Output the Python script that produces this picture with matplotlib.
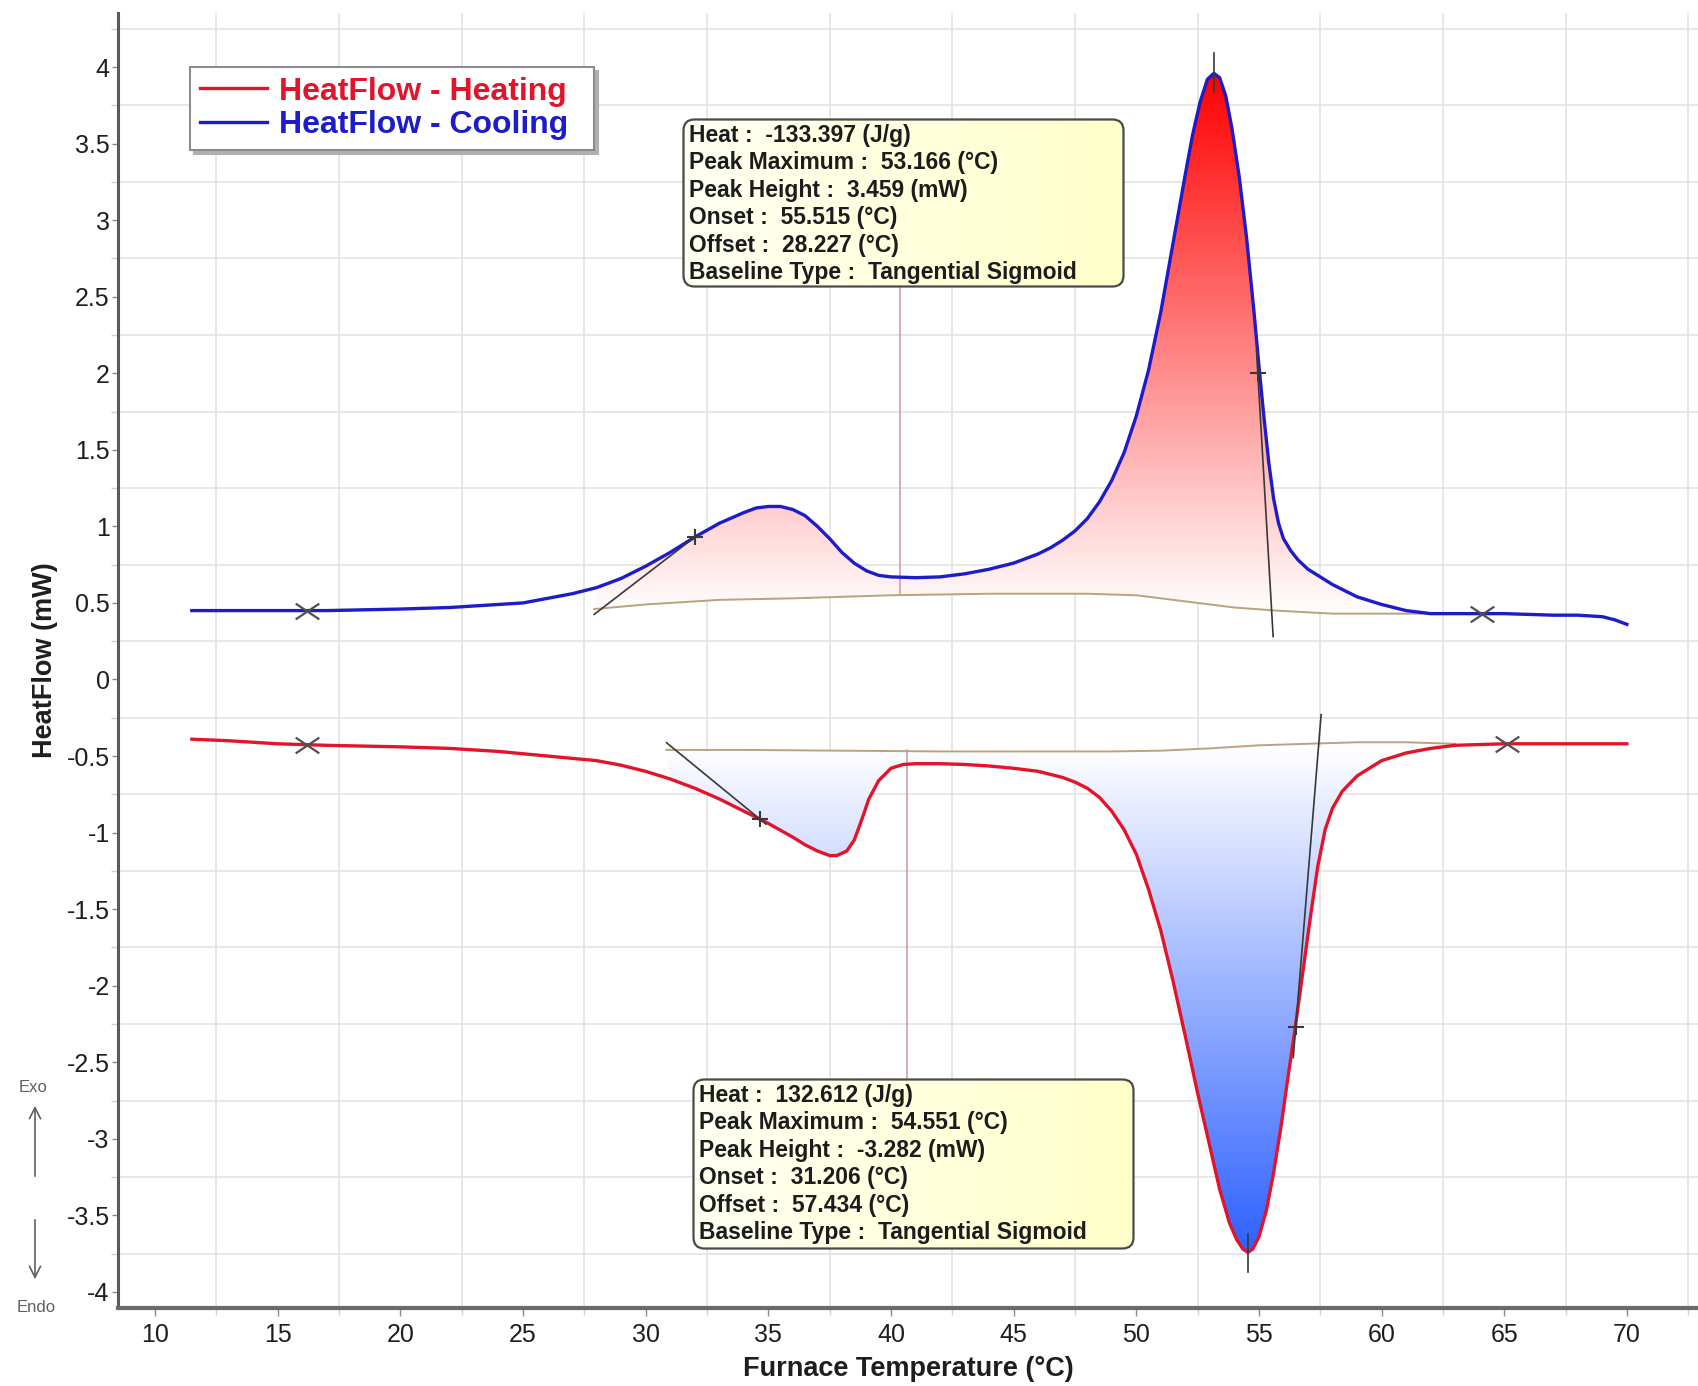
"""
DSC heat-flow curves (heating / cooling) with integrated peaks.
"""

import numpy as np
import matplotlib.pyplot as plt
from matplotlib.patches import FancyBboxPatch, Polygon
from matplotlib.path import Path

plt.rcParams["font.family"] = ["Liberation Sans", "DejaVu Sans"]
plt.rcParams["axes.unicode_minus"] = False

# ── DATA ──────────────────────────────────────────────────────────────────────
cool_t = [11.5, 14, 17, 20, 22, 24, 25, 26, 27, 28, 29, 30, 31, 32, 33, 34,
          34.5, 35, 35.5, 36, 36.5, 37, 37.5, 38, 38.5, 39, 39.5, 40, 41, 42,
          43, 44, 45, 46, 46.5, 47, 47.5, 48, 48.5, 49, 49.5, 50, 50.5, 51,
          51.5, 52, 52.3, 52.6, 52.9, 53.166, 53.4, 53.65, 53.9, 54.2, 54.5,
          54.8, 55.0, 55.2, 55.4, 55.6, 55.8, 56.0, 56.3, 56.6, 57, 57.5, 58,
          59, 60, 61, 62, 63, 65, 67, 68, 69, 69.5, 70]
cool_hf = [0.45, 0.45, 0.45, 0.46, 0.47, 0.49, 0.50, 0.53, 0.56, 0.60, 0.66,
           0.74, 0.83, 0.93, 1.02, 1.09, 1.12, 1.13, 1.13, 1.11, 1.07, 1.00,
           0.92, 0.83, 0.76, 0.71, 0.68, 0.67, 0.665, 0.67, 0.69, 0.72, 0.76,
           0.82, 0.86, 0.91, 0.97, 1.05, 1.16, 1.30, 1.48, 1.72, 2.02, 2.40,
           2.85, 3.30, 3.56, 3.77, 3.92, 3.959, 3.93, 3.81, 3.60, 3.28, 2.88,
           2.40, 2.05, 1.72, 1.42, 1.18, 1.02, 0.92, 0.84, 0.78, 0.72, 0.67,
           0.62, 0.54, 0.49, 0.45, 0.43, 0.43, 0.43, 0.42, 0.42, 0.41, 0.39,
           0.36]

heat_t = [11.5, 13, 15, 17, 20, 22, 24, 26, 28, 29, 30, 31, 32, 33, 34, 35,
          36, 36.5, 37, 37.5, 37.8, 38.2, 38.5, 38.8, 39.1, 39.5, 40, 40.5,
          41, 42, 43, 44, 45, 46, 47, 47.5, 48, 48.5, 49, 49.5, 50, 50.5, 51,
          51.5, 52, 52.5, 53, 53.4, 53.8, 54.1, 54.35, 54.551, 54.75, 55.0,
          55.3, 55.6, 55.9, 56.2, 56.5, 56.8, 57.1, 57.4, 57.7, 58.0, 58.4,
          59, 60, 61, 62, 63, 65, 68, 70]
heat_hf = [-0.39, -0.40, -0.42, -0.43, -0.44, -0.45, -0.47, -0.50, -0.53,
           -0.56, -0.60, -0.65, -0.71, -0.78, -0.86, -0.94, -1.03, -1.08,
           -1.12, -1.15, -1.15, -1.12, -1.05, -0.92, -0.78, -0.66, -0.58,
           -0.555, -0.55, -0.55, -0.555, -0.565, -0.58, -0.60, -0.64, -0.67,
           -0.71, -0.77, -0.86, -0.98, -1.14, -1.37, -1.64, -1.97, -2.33,
           -2.70, -3.05, -3.33, -3.55, -3.66, -3.72, -3.742, -3.72, -3.64,
           -3.47, -3.22, -2.92, -2.58, -2.25, -1.90, -1.55, -1.22, -0.98,
           -0.84, -0.73, -0.63, -0.53, -0.48, -0.45, -0.43, -0.42, -0.42,
           -0.42]

# tangential sigmoid baselines under each peak
cool_base_t = [27.9, 30, 33, 36, 40, 44, 48, 50, 52, 54, 55.7, 58, 60, 62]
cool_base_hf = [0.46, 0.49, 0.52, 0.53, 0.55, 0.56, 0.56, 0.55, 0.51, 0.47,
                0.45, 0.43, 0.43, 0.43]
heat_base_t = [30.85, 34, 38, 42, 46, 49, 51, 53, 55, 57, 59, 61, 63]
heat_base_hf = [-0.46, -0.46, -0.465, -0.47, -0.47, -0.47, -0.465, -0.45,
                -0.43, -0.42, -0.41, -0.41, -0.42]

# onset / offset tangents
cool_tangents = [([27.9, 32.0], [0.425, 0.93]), ([54.9, 55.58], [2.15, 0.28])]
heat_tangents = [([30.85, 34.9], [-0.413, -0.944]),
                 ([57.535, 56.4], [-0.23, -2.47])]

# inflection points and integration limits
cool_infl_t, cool_infl_hf = [32.0, 54.95], [0.93, 2.0]
heat_infl_t, heat_infl_hf = [34.65, 56.5], [-0.91, -2.27]
cool_lim_t, cool_lim_hf = [16.2, 64.1], [0.45, 0.43]
heat_lim_t, heat_lim_hf = [16.2, 65.1], [-0.43, -0.42]

# peak maximum
cool_peak_t, cool_peak_hf = 53.166, 3.959
heat_peak_t, heat_peak_hf = 54.551, -3.742

cool_info = ["Heat :  -133.397 (J/g)",
             "Peak Maximum :  53.166 (°C)",
             "Peak Height :  3.459 (mW)",
             "Onset :  55.515 (°C)",
             "Offset :  28.227 (°C)",
             "Baseline Type :  Tangential Sigmoid"]
heat_info = ["Heat :  132.612 (J/g)",
             "Peak Maximum :  54.551 (°C)",
             "Peak Height :  -3.282 (mW)",
             "Onset :  31.206 (°C)",
             "Offset :  57.434 (°C)",
             "Baseline Type :  Tangential Sigmoid"]

x_ticks = [10, 15, 20, 25, 30, 35, 40, 45, 50, 55, 60, 65, 70]
y_ticks = [-4, -3.5, -3, -2.5, -2, -1.5, -1, -0.5, 0, 0.5, 1, 1.5, 2, 2.5,
           3, 3.5, 4]

RED = "#e3142a"
BLUE = "#1c1cc8"
BASE_C = "#b9a27c"
TAN_C = "#383838"
LINK_C = "#c99a9a"

# ── HELPERS ───────────────────────────────────────────────────────────────────
def gradient_peak(ax, t, hf, bt, bhf, y_lo, y_hi, c_lo, c_hi):
    """Fill the area between a curve and its baseline with a vertical ramp."""
    t0, t1 = bt[0], bt[-1]
    seg = [(a, b) for a, b in zip(t, hf) if t0 <= a <= t1]
    verts = seg + list(zip(bt, bhf))[::-1]
    poly = Polygon(verts, closed=True, facecolor="none", edgecolor="none")
    ax.add_patch(poly)
    ramp = np.linspace(0, 1, 256)[:, None, None]
    img = (1 - ramp) * np.array(c_lo) + ramp * np.array(c_hi)
    im = ax.imshow(img, extent=[t0, t1, y_lo, y_hi], origin="lower",
                   aspect="auto", interpolation="bilinear", zorder=1)
    im.set_clip_path(poly)


def info_box(fig, left, top, width, height, lines):
    W, H = fig.bbox.width, fig.bbox.height
    bax = fig.add_axes([left / W, 1 - (top + height) / H, width / W, height / H])
    bax.axis("off")
    box = FancyBboxPatch((1.5, 1.5), width - 3, height - 3,
                         boxstyle="round,pad=0,rounding_size=11",
                         facecolor="none", edgecolor="#4a4a4a", linewidth=1.6,
                         zorder=3)
    bax.add_patch(box)
    ramp = np.linspace(0, 1, 256)[None, :, None]
    img = (1 - ramp) * np.array([1.0, 1.0, 0.95]) + ramp * np.array([1.0, 1.0, 0.79])
    im = bax.imshow(img, extent=[0, width, 0, height], aspect="auto", zorder=1)
    im.set_clip_path(box)
    for i, line in enumerate(lines):
        bax.text(7, height - 24 - i * 27.4, line, ha="left", va="baseline",
                 fontsize=16.5, fontweight="bold", color="#1c1c1c", zorder=4)
    bax.set_xlim(0, width)
    bax.set_ylim(0, height)


# ── FIGURE ────────────────────────────────────────────────────────────────────
fig = plt.figure(figsize=(16.99, 13.86), dpi=100)
ax = fig.add_axes([118 / 1699, 1 - 1308 / 1386, 1 - 118 / 1699, (1308 - 13) / 1386])

# peaks
gradient_peak(ax, cool_t, cool_hf, cool_base_t, cool_base_hf,
              0.43, cool_peak_hf, (1, 1, 1), (1, 0, 0))
gradient_peak(ax, heat_t, heat_hf, heat_base_t, heat_base_hf,
              heat_peak_hf, -0.45, (0.18, 0.38, 1.0), (1, 1, 1))

ax.plot(cool_base_t, cool_base_hf, color=BASE_C, lw=1.4, zorder=2)
ax.plot(heat_base_t, heat_base_hf, color=BASE_C, lw=1.4, zorder=2)

# leader lines from the result boxes
ax.plot([40.35, 40.35], [2.56, 0.55], color=LINK_C, lw=1.1, zorder=2)
ax.plot([40.65, 40.65], [-0.46, -2.60], color=LINK_C, lw=1.1, zorder=2)

line_heat, = ax.plot(heat_t, heat_hf, color=RED, lw=2.4, zorder=3,
                     label="HeatFlow - Heating")
line_cool, = ax.plot(cool_t, cool_hf, color=BLUE, lw=2.4, zorder=3,
                     label="HeatFlow - Cooling")

for tt, hh in cool_tangents + heat_tangents:
    ax.plot(tt, hh, color=TAN_C, lw=1.2, zorder=4)

ax.plot([cool_peak_t, cool_peak_t], [cool_peak_hf - 0.12, cool_peak_hf + 0.13],
        color=TAN_C, lw=1.2, zorder=4)
ax.plot([heat_peak_t, heat_peak_t], [heat_peak_hf + 0.12, heat_peak_hf - 0.13],
        color=TAN_C, lw=1.2, zorder=4)

ax.plot(cool_infl_t, cool_infl_hf, ls="none", marker="+", ms=11, mew=1.5,
        color=TAN_C, zorder=5)
ax.plot(heat_infl_t, heat_infl_hf, ls="none", marker="+", ms=11, mew=1.5,
        color=TAN_C, zorder=5)

xmark = Path([(-1.5, -1), (1.5, 1), (-1.5, 1), (1.5, -1)],
             [Path.MOVETO, Path.LINETO, Path.MOVETO, Path.LINETO])
ax.plot(cool_lim_t, cool_lim_hf, ls="none", marker=xmark, ms=17, mew=1.6,
        mfc="none", color="#505050", zorder=5)
ax.plot(heat_lim_t, heat_lim_hf, ls="none", marker=xmark, ms=17, mew=1.6,
        mfc="none", color="#505050", zorder=5)

# axes styling
ax.set_xlim(8.49, 72.94)
ax.set_ylim(-4.105, 4.353)
ax.set_xticks(x_ticks)
ax.set_xticklabels([f"{v:g}" for v in x_ticks])
ax.set_xticks(np.arange(12.5, 72.9, 5), minor=True)
ax.set_yticks(y_ticks)
ax.set_yticklabels([f"{v:g}" for v in y_ticks])
ax.set_yticks(np.arange(-3.75, 4.3, 0.5), minor=True)
ax.grid(which="minor", color="#e3e3e3", lw=1.2, zorder=0)
ax.set_axisbelow(True)

for side in ("top", "right"):
    ax.spines[side].set_visible(False)
ax.spines["left"].set_color("#5a5a5a")
ax.spines["left"].set_linewidth(2.2)
ax.spines["bottom"].set_color("#6a6a6a")
ax.spines["bottom"].set_linewidth(3)

ax.tick_params(axis="both", which="major", direction="out", length=4,
               width=1, color="#8a8a8a", labelsize=18, labelcolor="#1e1e1e")
ax.tick_params(axis="y", which="major", pad=2)
ax.tick_params(axis="x", which="major", length=6, pad=5)
ax.tick_params(which="minor", length=5, width=1, color="#d0d0d0")

ax.set_xlabel("Furnace Temperature (°C)", fontsize=19.5, fontweight="bold",
              color="#1e1e1e", labelpad=6)
ax.set_ylabel("HeatFlow (mW)", fontsize=19.5, fontweight="bold",
              color="#1e1e1e", labelpad=6)

# legend box stretched to a fixed width so there is room after the labels
leg = ax.legend(handles=[line_heat, line_cool], loc="upper left",
                bbox_to_anchor=(190 / 1699, 1 - 151 / 1386, 404 / 1699, 84 / 1386),
                bbox_transform=fig.transFigure, borderaxespad=0, mode="expand",
                prop={"size": 23, "weight": "bold"}, labelcolor=[RED, BLUE],
                handlelength=2.1, handletextpad=0.4, labelspacing=0.12,
                borderpad=0.3, fancybox=False, framealpha=1,
                edgecolor="#8c8c8c",
                shadow={"ox": 3, "oy": -3, "color": "#b0b0b0", "alpha": 1})
leg.get_frame().set_linewidth(1.5)
leg.set_zorder(10)

# exo / endo hint
fig.text(33 / 1699, 1 - 1088 / 1386, "Exo", fontsize=12, color="#606060",
         ha="center", va="center")
fig.text(36 / 1699, 1 - 1307 / 1386, "Endo", fontsize=12, color="#606060",
         ha="center", va="center")
ax.annotate("", xy=(35, 1386 - 1103), xytext=(35, 1386 - 1179),
            xycoords="figure pixels", textcoords="figure pixels",
            arrowprops=dict(arrowstyle="->,head_length=0.8,head_width=0.4",
                            color="#606060", lw=1.2))
ax.annotate("", xy=(35, 1386 - 1282), xytext=(35, 1386 - 1217),
            xycoords="figure pixels", textcoords="figure pixels",
            arrowprops=dict(arrowstyle="->,head_length=0.8,head_width=0.4",
                            color="#606060", lw=1.2))

# integration results
info_box(fig, 682, 118, 443, 170, cool_info)
info_box(fig, 692, 1078, 443, 172, heat_info)

fig.savefig("out.png", dpi=100)
